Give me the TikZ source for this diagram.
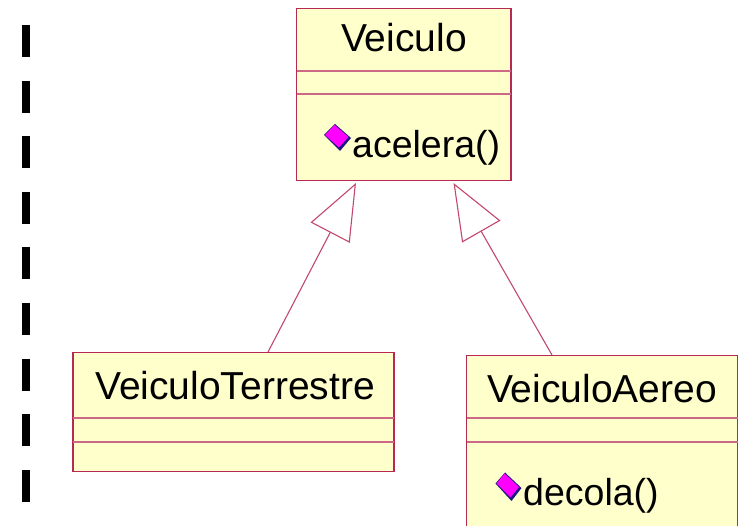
\documentclass[tikz,border=0pt]{standalone}
\usepackage{fontspec}
\setmainfont{Liberation Sans}
\usetikzlibrary{arrows.meta}
\definecolor{umlfill}{RGB}{255,255,204}
\definecolor{umlline}{RGB}{184,40,84}
\definecolor{iconmagenta}{RGB}{255,0,255}
\definecolor{iconedge}{RGB}{30,20,130}
\tikzset{
  x=1pt,y=-1pt,
  umlbox/.style={draw=umlline,fill=umlfill,line width=1.2pt,rectangle,inner sep=0pt,outer sep=0pt,anchor=north west},
  umltext/.style={font=\fontsize{39}{39}\selectfont,text=black,inner sep=0pt,anchor=base},
  umlmethod/.style={font=\fontsize{37.5}{38}\selectfont,text=black,inner sep=0pt,anchor=base west},
  compartment/.style={draw=umlline!70,line width=1.3pt},
  generalize/.style={draw=umlline!85,line width=1.1pt,-{Triangle[open,fill=white,length=56pt,width=44pt,line width=1.1pt]}},
  sepdash/.style={fill=black,draw=none},
  iconback/.style={fill=iconedge,draw=none},
  iconface/.style={fill=iconmagenta,draw=none}
}
\begin{document}
\begin{tikzpicture}
\clip (0,0) rectangle (740,526);
\fill[white] (0,0) rectangle (740,526);
% separator dashes
\foreach \y in {25,80.6,136.2,191.8,247.4,303,358.6,414.2,469.8}
  \fill[sepdash] (22,\y) rectangle (29.5,\y+32);
% classes
\node[umlbox,minimum width=214.5pt,minimum height=172pt] (veiculo) at (296.5,8.5) {};
\node[umlbox,minimum width=321pt,minimum height=119pt] (terrestre) at (73,352.5) {};
\node[umlbox,minimum width=271pt,minimum height=190pt] (aereo) at (466.5,355.5) {};
% compartments
\draw[compartment] (veiculo.west |- 0,71) -- (veiculo.east |- 0,71);
\draw[compartment] (veiculo.west |- 0,94) -- (veiculo.east |- 0,94);
\draw[compartment] (terrestre.west |- 0,418) -- (terrestre.east |- 0,418);
\draw[compartment] (terrestre.west |- 0,442) -- (terrestre.east |- 0,442);
\draw[compartment] (aereo.west |- 0,418) -- (aereo.east |- 0,418);
\draw[compartment] (aereo.west |- 0,442) -- (aereo.east |- 0,442);
% labels
\node[umltext] (veiculoname) at (404,52) {Veiculo};
\node[umltext] (terrestrename) at (235,400) {VeiculoTerrestre};
\node[umltext] (aereoname) at (602,403) {VeiculoAereo};
\node[umlmethod] (acelera) at (352,158) {acelera()};
\node[umlmethod] (decola) at (523,506) {decola()};
% method icons
\fill[iconback] (335,124) -- (351,138) -- (340,151) -- (324,135) -- cycle;
\fill[iconface] (334.5,125) -- (348.5,137) -- (339,147.5) -- (325,135) -- cycle;
\fill[iconback] (505,472.5) -- (521.5,488) -- (511.5,501) -- (495.5,483.5) -- cycle;
\fill[iconface] (504.5,473.5) -- (519,487) -- (510.5,497.5) -- (496.5,483.5) -- cycle;
% generalizations
\coordinate (terrestreout) at (268,352);
\coordinate (veiculoinl) at (356,183);
\coordinate (aereoout) at (552,355);
\coordinate (veiculoinr) at (453.5,183);
\draw[generalize] (terrestreout) -- (veiculoinl);
\draw[generalize] (aereoout) -- (veiculoinr);
\end{tikzpicture}
\end{document}
